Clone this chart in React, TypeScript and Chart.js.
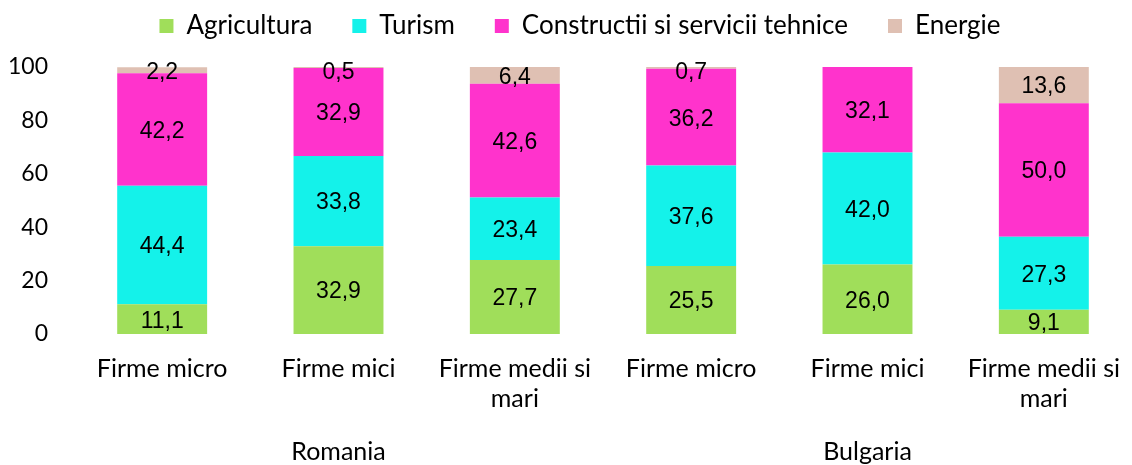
import React, { useEffect, useRef } from "react";
import { Chart, registerables } from "chart.js";

Chart.register(...registerables);

const categories: string[][] = [
  ["Firme micro"],
  ["Firme mici"],
  ["Firme medii si", "mari"],
  ["Firme micro"],
  ["Firme mici"],
  ["Firme medii si", "mari"],
];
const groups = [
  { label: "Romania", from: 0, to: 2 },
  { label: "Bulgaria", from: 3, to: 5 },
];
const agricultura = [11.1, 32.9, 27.7, 25.5, 26.0, 9.1];
const turism = [44.4, 33.8, 23.4, 37.6, 42.0, 27.3];
const constructii = [42.2, 32.9, 42.6, 36.2, 32.1, 50.0];
const energie: (number | null)[] = [2.2, 0.5, 6.4, 0.7, null, 13.6];
const yTicks = [0, 20, 40, 60, 80, 100];

const CAL = "Lato, 'Open Sans', sans-serif";
const ARIAL = "'Liberation Sans', Arial, sans-serif";

const fmt = (v: number) => v.toFixed(1).replace(".", ",");

const valueLabels = {
  id: "valueLabels",
  afterDatasetsDraw(chart: any) {
    const ctx = chart.ctx;
    const top = chart.chartArea.top;
    ctx.save();
    ctx.font = `23px ${ARIAL}`;
    ctx.fillStyle = "#000";
    ctx.textAlign = "center";
    ctx.textBaseline = "middle";
    chart.data.datasets.forEach((ds: any, di: number) => {
      const meta = chart.getDatasetMeta(di);
      meta.data.forEach((el: any, i: number) => {
        const v = ds.data[i];
        if (v == null) return;
        const mid = (el.y + el.base) / 2 + 2;
        const y = Math.max(mid, top + 6);
        ctx.fillText(fmt(v), el.x, y);
      });
    });
    ctx.restore();
  },
};

const groupLabels = {
  id: "groupLabels",
  afterDraw(chart: any) {
    const ctx = chart.ctx;
    const x = chart.scales.x;
    ctx.save();
    ctx.font = `25px ${CAL}`;
    ctx.fillStyle = "#000";
    ctx.textAlign = "center";
    ctx.textBaseline = "middle";
    groups.forEach((g) => {
      const cx = (x.getPixelForValue(g.from) + x.getPixelForValue(g.to)) / 2;
      ctx.fillText(g.label, cx, chart.chartArea.bottom + 118);
    });
    ctx.restore();
  },
};

const legendPlacement = {
  id: "legendPlacement",
  beforeInit(chart: any) {
    const lg = chart.legend;
    if (!lg) return;
    const orig = lg.fit;
    lg.fit = function () {
      orig.call(this);
      this.height = 67;
    };
  },
  afterLayout(chart: any) {
    const lg = chart.legend;
    if (!lg) return;
    lg.top -= 27;
    lg.bottom -= 27;
    lg.left += 14;
    lg.right += 14;
  },
};

export default function App() {
  const ref = useRef<HTMLCanvasElement>(null);
  useEffect(() => {
    document.body.style.margin = "0";
    const chart = new Chart(ref.current!, {
      type: "bar",
      data: {
        labels: categories,
        datasets: [
          { label: "Agricultura", data: agricultura, backgroundColor: "#A0DE5A" },
          { label: "Turism", data: turism, backgroundColor: "#14F2EA" },
          { label: "Constructii si servicii tehnice", data: constructii, backgroundColor: "#FF33CC" },
          { label: "Energie", data: energie, backgroundColor: "#DFC0B3" },
        ],
      },
      options: {
        animation: false,
        responsive: false,
        maintainAspectRatio: false,
        datasets: { bar: { categoryPercentage: 1, barPercentage: 0.51 } },
        layout: { padding: 0 },
        plugins: {
          legend: {
            position: "top",
            labels: {
              boxWidth: 14,
              boxHeight: 14,
              padding: 40,
              color: "#000",
              font: { family: CAL, size: 26 },
            },
          },
          tooltip: { enabled: false },
        },
        scales: {
          x: {
            stacked: true,
            grid: { display: false },
            border: { display: false },
            ticks: {
              color: "#000",
              font: { family: CAL, size: 25, lineHeight: 1.2 },
              padding: 12,
              maxRotation: 0,
              autoSkip: false,
            },
            afterFit(scale: any) {
              scale.height = 131;
            },
          },
          y: {
            stacked: true,
            min: 0,
            max: 100,
            afterBuildTicks(scale: any) {
              scale.ticks = yTicks.map((v) => ({ value: v }));
            },
            grid: { display: false },
            border: { display: false },
            ticks: {
              color: "#000",
              font: { family: CAL, size: 23 },
              padding: 18,
            },
            afterFit(scale: any) {
              scale.width = 74;
            },
          },
        },
      },
      plugins: [legendPlacement, valueLabels, groupLabels],
    });
    return () => chart.destroy();
  }, []);
  return (
    <div style={{ position: "absolute", left: 0, top: 0, width: 1132, height: 465, background: "#fff" }}>
      <canvas ref={ref} width={1132} height={465} style={{ width: 1132, height: 465 }} />
    </div>
  );
}
